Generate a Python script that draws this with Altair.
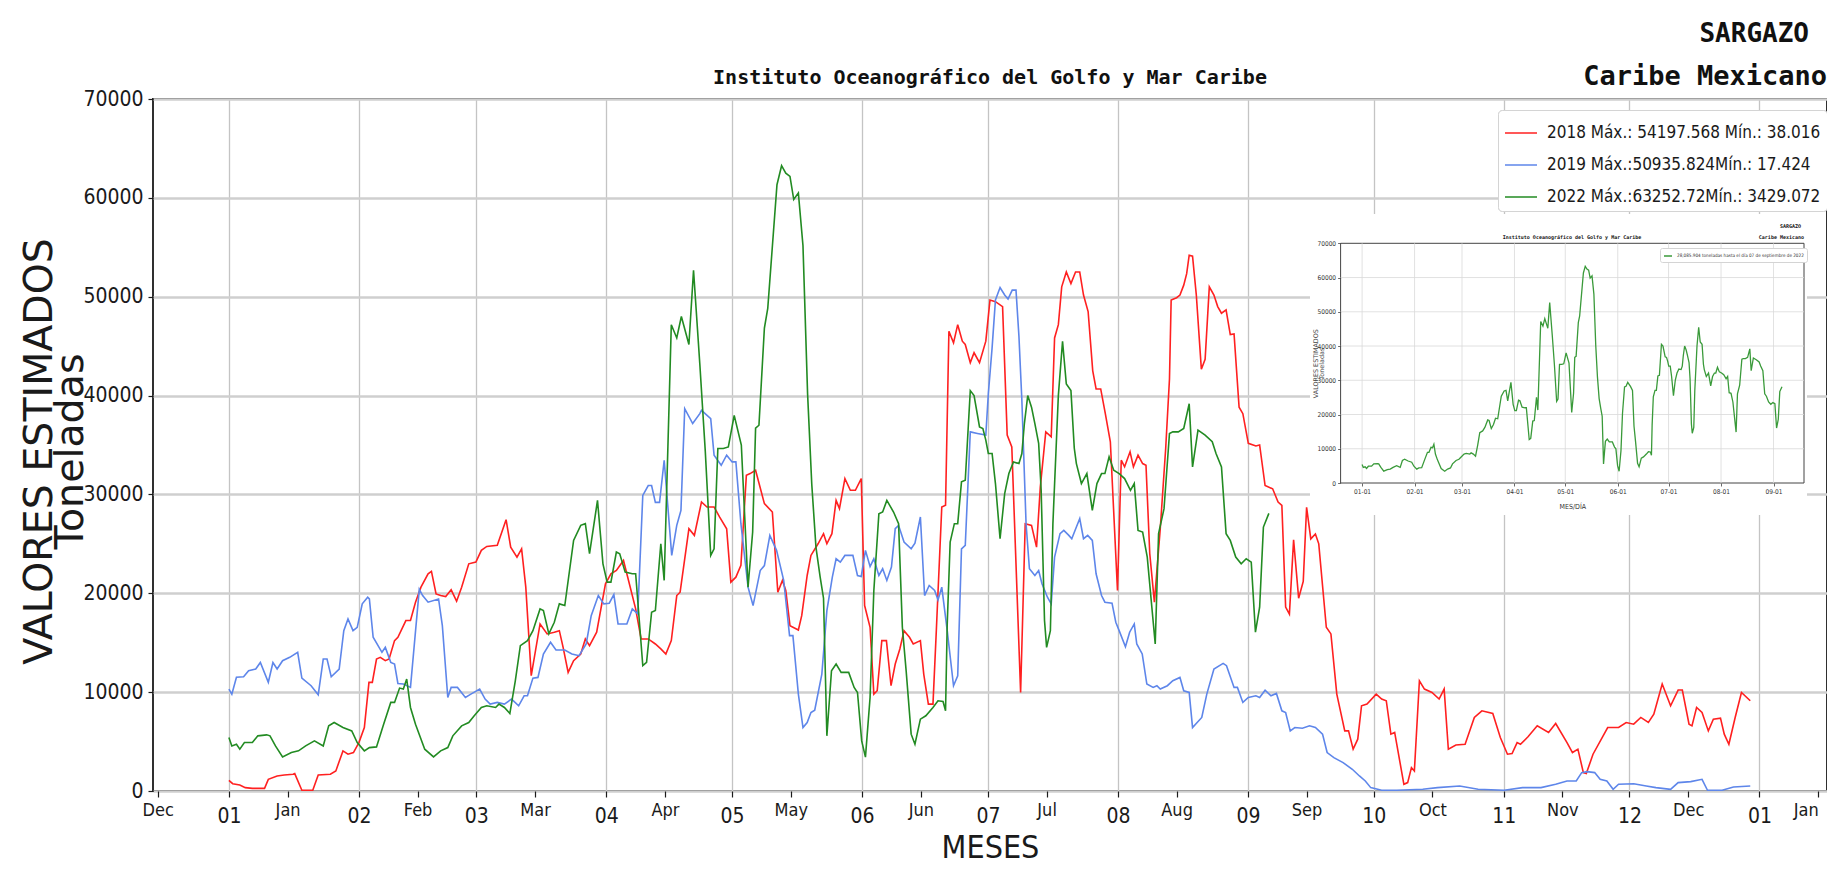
import json
import altair as alt
import pandas as pd

# ---------------- data ----------------
serie_2018 = [
    (0, 1080), (0.9, 740), (2.6, 610), (3.9, 340), (5.6, 270), (8.5, 270), (9.4, 1180), (11.5, 1520),
    (13.2, 1620), (15.3, 1690), (15.7, 1760), (17.4, 70), (20, 70), (21.3, 1620), (24.2, 1690), (25.5, 2030),
    (27.2, 4060), (28.4, 3720), (29.7, 3890), (31, 4900), (32.3, 6420), (33.4, 10990), (34.2, 10990),
    (35.2, 13350), (36.1, 13520), (37.3, 13180), (38.2, 13350), (39.5, 15210), (40.3, 15550), (42.2, 17240),
    (43.3, 17240), (44.5, 19100), (45.8, 20620), (47.5, 21970), (48.3, 22210), (49.4, 19940), (50.5, 19770),
    (51.7, 19670), (53, 20350), (54.3, 19200), (55.5, 20620), (57.2, 22980), (58.9, 23150), (60.2, 24340),
    (61.5, 24740), (64, 24850), (66.1, 27450), (67.2, 24670), (68.7, 23660), (69.8, 24500), (70.8, 20620),
    (72.1, 11660), (74.2, 16900), (75.9, 15890), (77.6, 16060), (78.8, 16220), (79.7, 14530), (80.9, 12000),
    (82.2, 13180), (83.9, 13860), (85, 15380), (86, 14700), (87.7, 16060), (89.8, 20960), (91.1, 21970),
    (92.4, 22310), (94.1, 23320), (95.3, 21300), (97, 18420), (98.3, 15380), (100, 15380), (101.7, 14870),
    (103, 14370), (104.2, 13860), (105.5, 15210), (106.8, 19770), (107.6, 20110), (109.7, 26530), (111, 25860),
    (112.7, 29240), (114, 28730), (115.7, 28730), (117, 27720), (118.7, 26530), (119.7, 21130), (120.9, 21630),
    (122.1, 22820), (123.4, 31940), (124.3, 32110), (125.6, 32450), (127.7, 29070), (129.6, 28220),
    (130.9, 20110), (132, 21300), (132.8, 20280), (133.8, 16730), (135.8, 16290), (136.6, 17740), (137.9, 21800),
    (138.8, 23830), (140.5, 25010), (141.8, 26030), (142.6, 25010), (143.8, 26030), (144.8, 29400),
    (145.6, 28560), (146.9, 31600), (148.2, 30420), (149.4, 30420), (150.8, 31600), (151.6, 18760),
    (152.9, 16560), (153.8, 9800), (154.6, 10140), (155.7, 15210), (156.8, 15210), (157.9, 10650),
    (158.9, 12840), (160, 14370), (161, 16220), (162.3, 15550), (163.2, 14870), (164.9, 15210), (165.7, 11830),
    (166.8, 8790), (167.9, 8790), (168.7, 16220), (170, 28730), (170.9, 28900), (171.7, 46500), (172.8, 45330),
    (173.8, 47170), (174.9, 45500), (175.6, 45170), (176.8, 43330), (177.7, 44330), (179, 43330),
    (180.5, 45500), (181.5, 49670), (182.8, 49500), (184.5, 49000), (185.6, 36000), (186.7, 34800),
    (188.8, 9970), (189.9, 27040), (191.4, 26870), (192.6, 24670), (193.5, 30760), (194.8, 36330),
    (196.1, 35830), (196.9, 45830), (197.8, 47170), (198.6, 51000), (199.7, 52500), (200.8, 51330),
    (201.9, 52500), (202.9, 52500), (203.8, 50170), (204.9, 48500), (206, 42500), (206.8, 40670),
    (207.9, 40670), (209, 38170), (210.2, 35330), (211.9, 20280), (212.8, 33460), (213.6, 32790),
    (214.9, 34310), (215.7, 32790), (216.8, 33970), (217.9, 33120), (218.7, 32960), (219.6, 24000),
    (220.7, 19100), (222.1, 26530), (223.4, 34670), (224.3, 41670), (224.7, 49670), (226, 49900),
    (226.8, 50170), (227.7, 51170), (228.4, 52330), (229, 54198), (229.8, 54100), (230.7, 50170),
    (231.9, 42670), (232.8, 43670), (233.8, 51000), (234.9, 50170), (235.8, 49000), (236.7, 48330),
    (237.8, 48670), (238.8, 46170), (239.7, 46230), (240.9, 38830), (241.8, 38170), (243.1, 35170),
    (244.9, 34900), (245.8, 35000), (247.1, 30900), (248.9, 30570), (250.2, 29230), (251.1, 28900),
    (252, 18600), (252.9, 17900), (253.9, 25400), (255.1, 19500), (256.2, 21200), (257, 28700), (258, 25500),
    (259.1, 26000), (259.9, 25000), (261.7, 16560), (262.8, 15890), (264.2, 9800), (266.1, 6080), (267, 6080),
    (268.1, 4230), (269.2, 5240), (270.1, 8620), (271.4, 8790), (273.6, 9800), (274.9, 9300), (276, 9130),
    (277.1, 5750), (278, 5920), (280.2, 680), (281.1, 850), (282, 2370), (282.7, 2030), (283.9, 11150),
    (285.1, 10310), (286.9, 9970), (288.6, 9300), (289.8, 10310), (290.8, 4230), (292.6, 4660), (294.8, 4730),
    (297, 7440), (298.8, 8110), (301.4, 7840), (303.2, 5410), (304.9, 3720), (306, 3790), (307.2, 4900),
    (308, 4730), (309.8, 5480), (312, 6590), (314.7, 5920), (316.4, 6830), (319.1, 4900), (320.4, 3890),
    (321.7, 4230), (323, 1860), (323.7, 1760), (325.3, 3720), (328.8, 6420), (331.4, 6420), (333.2, 6930),
    (335, 6760), (336.7, 7440), (338.5, 6930), (339.8, 7770), (341.8, 10820), (343.8, 8620), (345.6, 10210),
    (346.6, 10210), (348.2, 6760), (348.9, 6590), (350, 8450), (351.3, 7940), (352.8, 6080), (354, 7270),
    (355.7, 7370), (356.6, 5750), (357.7, 4730), (359.2, 7440), (360.7, 9970), (362.8, 9130),
]

serie_2019 = [
    (0, 10309), (0.7, 9800), (1.8, 11500), (3.5, 11560), (4.7, 12170), (6.4, 12340), (7.5, 13000), (9.4, 11000),
    (10.5, 13000), (11.5, 12340), (12.8, 13180), (14.5, 13520), (16.4, 14030), (17.4, 11420), (19.6, 10650),
    (21.3, 9730), (22.5, 13350), (23.4, 13350), (24.4, 11560), (26.3, 12340), (27.4, 16220), (28.4, 17400),
    (29.6, 16220), (30.6, 16560), (31.8, 18930), (33.1, 19600), (33.5, 19430), (34.4, 15550), (36.5, 14030),
    (37.3, 14530), (38.6, 13010), (39.5, 12840), (40.3, 10880), (41.6, 10820), (43.3, 10480), (45.4, 20400),
    (46.2, 19770), (47.5, 19100), (50, 19430), (50.9, 16730), (52.2, 9460), (53, 10480), (54.5, 10480),
    (56.4, 9460), (57.7, 9800), (59.8, 10310), (61.1, 9300), (62.3, 8790), (64, 8960), (65.7, 8790),
    (67.4, 9300), (69.1, 8620), (70.4, 9630), (71.2, 9630), (72.5, 11420), (73.7, 11490), (75, 13860),
    (76.7, 15040), (78, 14260), (80.1, 14260), (81.8, 13860), (83.5, 13690), (85.2, 14870), (86.4, 17740),
    (88.1, 19770), (89.4, 18930), (90.7, 19000), (91.8, 19870), (92.8, 16900), (94.9, 16900), (96.2, 18420),
    (97.5, 17910), (98.7, 29900), (100, 30900), (100.8, 30900), (101.7, 29200), (102.7, 29200), (103.8, 33460),
    (105.6, 23830), (106.8, 26870), (107.8, 28390), (108.7, 38670), (110.6, 37170), (112.3, 38170),
    (112.7, 38500), (114.9, 37670), (115.7, 33970), (117.4, 32950), (118.7, 33970), (120, 33290),
    (120.9, 33290), (122.1, 27040), (123.8, 20620), (125, 18760), (126.7, 22300), (127.7, 22800), (129, 25860),
    (130.6, 24340), (132.3, 21300), (133.7, 15720), (134.5, 15720), (135.8, 9800), (136.9, 6420), (137.9, 6930),
    (138.8, 7940), (139.7, 8180), (141.4, 11830), (142.6, 18250), (143.9, 21630), (144.8, 23490),
    (145.8, 23150), (146.9, 23830), (148.8, 23830), (149.9, 21800), (150.8, 21700), (151.8, 24340),
    (152.9, 22710), (153.8, 23490), (155, 21800), (155.9, 22480), (156.9, 21300), (158, 22650), (158.9, 26530),
    (159.7, 26870), (161, 25180), (162.7, 24500), (163.6, 25080), (164.9, 27720), (165.9, 19770), (167, 20790),
    (168.3, 20280), (169.1, 19330), (170, 20620), (171.3, 16220), (172.8, 10650), (173.8, 11660),
    (174.7, 24500), (175.6, 24840), (176.8, 36330), (178.5, 36170), (180.5, 36000), (181.1, 40170),
    (182, 44830), (182.8, 49670), (183.9, 50936), (185, 50170), (185.8, 49770), (186.8, 50670), (187.7, 50670),
    (188.4, 46000), (189.1, 39500), (190.1, 27040), (190.9, 22480), (192.2, 21800), (193.1, 22310),
    (193.9, 20960), (195.2, 19600), (196.1, 18930), (196.9, 23660), (198.2, 26030), (199.1, 26360),
    (200.3, 25860), (201, 25520), (202.1, 26700), (202.9, 27550), (203.8, 25520), (204.8, 25860),
    (205.9, 25350), (206.8, 21970), (208.1, 19770), (208.9, 19100), (210.6, 19000), (211.5, 17070),
    (212.3, 16220), (213.8, 14600), (214.8, 16060), (215.9, 16900), (216.5, 14870), (217.8, 13860),
    (218.9, 10820), (220.4, 10480), (221.3, 10650), (222.1, 10310), (223.8, 10650), (225.1, 11150),
    (226.8, 11490), (227.7, 10140), (229, 9970), (229.8, 6420), (232, 7440), (233.2, 9800), (234.9, 12340),
    (237.1, 12910), (237.9, 12680), (239.7, 10480), (240.5, 10480), (241.8, 8960), (243.1, 9460),
    (244.9, 9630), (245.8, 9460), (247.1, 10200), (248.5, 9630), (249.8, 9870), (251.1, 8110), (252, 7940),
    (253.1, 6080), (254.2, 6420), (256, 6350), (257.7, 6590), (259.1, 6420), (260.8, 5750), (261.9, 3890),
    (263.5, 3380), (265.7, 2870), (267.9, 2200), (269.6, 1520), (271, 1010), (272.3, 340), (274.9, 70),
    (278.5, 70), (284.7, 170), (288.2, 340), (293.5, 510), (297.9, 170), (304.1, 70), (308.5, 340),
    (312.9, 340), (316.4, 680), (319.1, 1010), (321.3, 1010), (322.6, 1860), (323.9, 1960), (325.7, 1860),
    (327, 1180), (328.6, 1010), (330.1, 170), (331.4, 680), (335, 740), (338, 510), (340.3, 340), (343.8, 170),
    (345.6, 850), (348.6, 950), (351.3, 1180), (352.6, 70), (356.1, 70), (358.8, 410), (362.8, 510),
]

serie_2022 = [
    (0, 5410), (0.7, 4560), (1.8, 4730), (2.6, 4230), (3.7, 4900), (5.6, 4900), (6.9, 5580), (9, 5680),
    (9.8, 5580), (11.1, 4560), (12.8, 3450), (14.9, 3890), (16.6, 4060), (18.3, 4560), (20.4, 5070),
    (22.5, 4560), (23.8, 6590), (25.1, 6930), (27.2, 6420), (29.3, 6080), (30.6, 4900), (32.3, 4060),
    (33.5, 4390), (35.2, 4460), (36.9, 6760), (38.6, 8960), (39.5, 8960), (40.7, 10410), (41.6, 10310),
    (42.4, 11320), (43.3, 8450), (44.5, 6760), (46.7, 4230), (48.8, 3450), (50.5, 4060), (52.2, 4390),
    (53.4, 5580), (55.5, 6590), (57.2, 6930), (58.5, 7610), (60.2, 8450), (61.5, 8620), (63.6, 8450),
    (64.4, 8790), (65.7, 8450), (67, 7840), (68.3, 11150), (69.5, 14700), (71.2, 15210), (72.5, 16220),
    (74.2, 18420), (75, 18250), (76.3, 15890), (77.6, 17070), (78.8, 18930), (80.1, 18760), (82.2, 25350),
    (83.9, 26870), (85, 27040), (86, 24000), (87.9, 29400), (89.2, 22980), (90.2, 21130), (91.1, 21130),
    (92.4, 24170), (93.2, 24000), (94.5, 22140), (96.2, 21970), (97, 21970), (98.7, 12680), (99.6, 13010),
    (100.8, 18080), (101.7, 18250), (103, 25010), (103.8, 21300), (105.5, 47170), (106.8, 45830),
    (107.9, 48000), (109.7, 45170), (110.8, 52670), (112.3, 43200), (113.6, 34400), (114.9, 23830),
    (115.7, 24500), (116.6, 34650), (117.9, 34650), (119.1, 34800), (120.5, 38000), (122.2, 35000),
    (123.8, 20620), (124.9, 26200), (125.6, 36700), (126.4, 37000), (127.7, 46830), (128.5, 48830),
    (130.7, 61330), (131.8, 63253), (132.8, 62500), (133.8, 62170), (134.7, 59830), (135.8, 60500),
    (136.9, 55170), (138, 40170), (139, 31000), (140, 24650), (141, 21630), (141.8, 19500), (142.6, 5580),
    (143.7, 12170), (144.8, 12840), (146, 12000), (147.8, 12000), (149.1, 10480), (149.9, 9970), (150.9, 5070),
    (151.8, 3429), (152.9, 9460), (153.8, 20280), (155, 28050), (155.9, 28220), (156.9, 29400), (158.5, 28220),
    (159.7, 27040), (160.6, 16560), (161.5, 12170), (162.7, 5750), (163.6, 4730), (164.9, 7270), (166.2, 7610),
    (167.9, 8450), (169.1, 9130), (170.3, 9060), (170.9, 8110), (171.3, 16900), (172, 25180), (173, 27040),
    (173.8, 27040), (174.7, 31270), (175.6, 31430), (176.8, 40500), (177.7, 40000), (179, 36830),
    (179.8, 36670), (180.5, 35500), (181.1, 34140), (182, 34140), (182.8, 31100), (183.9, 25520), (185, 30080),
    (186, 32110), (187.1, 33290), (188.4, 33120), (189.1, 34140), (189.7, 37170), (190.5, 40000),
    (191.4, 38830), (192.2, 37170), (193.1, 35170), (193.7, 30420), (194.5, 17240), (195, 14530),
    (195.9, 16220), (196.5, 27040), (197.8, 40000), (198.8, 45500), (199.7, 41170), (200.8, 40500),
    (201.6, 34670), (202.1, 33120), (203.3, 31100), (204.6, 32110), (205.9, 28390), (207, 31100),
    (208.1, 32110), (208.9, 32110), (209.9, 33800), (211, 32450), (212.3, 32110), (213.6, 31600), (215, 30420),
    (215.9, 31100), (216.8, 26360), (217.9, 26200), (219, 23660), (220.9, 14870), (221.7, 26030),
    (223, 28560), (224.3, 36170), (225.1, 36330), (226.4, 36330), (227.7, 36670), (229, 39170), (229.8, 32790),
    (231.1, 36500), (232.8, 36000), (234.5, 35330), (235.4, 34140), (236.7, 32790), (237.8, 26030),
    (238.8, 25350), (240.1, 23660), (241.4, 22980), (242.6, 23490), (243.8, 23150), (244.8, 16060),
    (245.8, 18590), (246.7, 26700), (248, 28086),
]

serie_labels = [
    "2018 Máx.: 54197.568 Mín.: 38.016",
    "2019 Máx.:50935.824Mín.: 17.424",
    "2022 Máx.:63252.72Mín.: 3429.072",
]
serie_colors = ["#ff2020", "#5e86ea", "#228b22"]
serie_widths = [1.6, 1.6, 3.2]

tick_days = [-17, 0, 14, 31, 45, 59, 73, 90, 104, 120, 134, 151, 165, 181, 195,
             212, 226, 243, 257, 273, 287, 304, 318, 334, 348, 365, 379]
tick_labels = ["Dec", "01", "Jan", "02", "Feb", "03", "Mar", "04", "Apr", "05", "May", "06", "Jun",
               "07", "Jul", "08", "Aug", "09", "Sep", "10", "Oct", "11", "Nov", "12", "Dec", "01", "Jan"]
month_start_days = [0, 31, 59, 90, 120, 151, 181, 212, 243, 273, 304, 334, 365]
y_ticks = [0, 10000, 20000, 30000, 40000, 50000, 60000, 70000]

inset_tick_days = [0, 31, 59, 90, 120, 151, 181, 212, 243]
inset_tick_labels = ["01-01", "02-01", "03-01", "04-01", "05-01", "06-01", "07-01", "08-01", "09-01"]
inset_grid_values = [10000, 20000, 30000, 40000, 50000, 60000]
inset_legend_label = "28,085.904 toneladas hasta el día 07 de septiembre de 2022"

titulo = "Instituto Oceanográfico del Golfo y Mar Caribe"
encabezado = ["SARGAZO", "Caribe Mexicano"]
y_title = ["VALORES ESTIMADOS", "Toneladas"]
x_title = "MESES"
inset_x_title = "MES/DÍA"

# ---------------- layout ----------------
W, H = 1674, 692
NARROW = "DejaVu Sans Condensed, Liberation Sans Narrow, sans-serif"
MONO = "DejaVu Sans Mono, Liberation Mono, monospace"
INK = "#1a1a1a"

# inset geometry (pixels relative to the main plot area)
IX0, IX1, IY0, IY1 = 1187.6, 1651.0, 384.0, 144.3
BG = dict(x=1157, x2=1654, y=115, y2=416)

rows = []
for lab, serie in zip(serie_labels, [serie_2018, serie_2019, serie_2022]):
    for d, v in serie:
        rows.append({"serie": lab, "day": d, "valor": v})
df_main = pd.DataFrame(rows)
df_inset = pd.DataFrame([{"leyenda": inset_legend_label, "day": d, "valor": v} for d, v in serie_2022])

is_month = f"indexof({json.dumps(month_start_days)}, datum.value) >= 0"
label_expr = f"{json.dumps(tick_labels)}[indexof({json.dumps(tick_days)}, datum.value)]"
inset_label_expr = f"{json.dumps(inset_tick_labels)}[indexof({json.dumps(inset_tick_days)}, datum.value)]"
last_tick = f"datum.value == {tick_days[-1]}"

main_legend = alt.Legend(
    title=None, orient="none", legendX=1345, legendY=11, symbolType="stroke", symbolSize=1024,
    labelFont=NARROW, labelFontSize=17, labelColor=INK, labelLimit=600, rowPadding=7, padding=6,
    labelOffset=9, strokeColor="#d4d4d4", fillColor="white", cornerRadius=4,
)

main = alt.Chart(df_main).mark_line().encode(
    x=alt.X("day:Q", scale=alt.Scale(domain=[-18.1, 381.1], nice=False, zero=False),
            axis=alt.Axis(
                values=tick_days, labelExpr=label_expr, labelOverlap=False, labelFlush=False,
                grid=True, gridColor="#c4c4c4", gridWidth=1.3,
                gridOpacity={"condition": {"test": is_month, "value": 1}, "value": 0},
                tickColor=INK, tickSize=6, tickWidth=1.2,
                labelFont=NARROW, labelColor=INK,
                labelFontSize={"condition": {"test": is_month, "value": 21}, "value": 18},
                labelPadding={"condition": {"test": is_month, "value": 8}, "value": 4},
                labelAlign={"condition": {"test": last_tick, "value": "right"}, "value": "center"},
                domain=False, title=x_title, titleFont=NARROW, titleFontSize=32,
                titleFontWeight="normal", titleColor=INK, titleBaseline="alphabetic", titleY=66,
            )),
    y=alt.Y("valor:Q", scale=alt.Scale(domain=[0, 70000], nice=False, zero=True),
            axis=alt.Axis(
                values=y_ticks, format="d", grid=True, gridColor="#cfcfcf", gridWidth=2.6,
                tickColor=INK, tickSize=5, tickWidth=1.2, labelFont=NARROW, labelFontSize=21,
                labelColor=INK, labelPadding=5, domain=False,
                title=y_title, titleFont="DejaVu Sans", titleFontSize=39.5, titleFontWeight="normal",
                titleColor=INK, titleAngle=270, titleX=-114, titleY=352, titleAlign="center",
                titleBaseline="middle", titleLineHeight=31,
            )),
    color=alt.Color("serie:N", scale=alt.Scale(domain=serie_labels, range=serie_colors), legend=main_legend),
    strokeWidth=alt.StrokeWidth("serie:N", scale=alt.Scale(domain=serie_labels, range=serie_widths),
                                legend=main_legend),
)

one = alt.Data(values=[{"k": 1}])
inset_bg = alt.Chart(one).mark_rect(fill="white").encode(
    x=alt.value(BG["x"]), x2=alt.value(BG["x2"]), y=alt.value(BG["y"]), y2=alt.value(BG["y2"]))
inset_frame = alt.Chart(one).mark_rect(fill=None, stroke="#444444", strokeWidth=1).encode(
    x=alt.value(IX0), x2=alt.value(IX1), y=alt.value(IY1), y2=alt.value(IY0))


def inset_x_scale():
    return alt.Scale(domain=[-12.7, 261], range=[IX0, IX1], nice=False, zero=False)


def inset_y_scale():
    return alt.Scale(domain=[0, 70000], range=[IY0, IY1], nice=False, zero=True)


inset_grid_v = alt.Chart(pd.DataFrame({"day": inset_tick_days})).mark_rule(
    color="#d9d9d9", strokeWidth=0.8).encode(
    x=alt.X("day:Q", scale=inset_x_scale(), axis=None), y=alt.value(IY1), y2=alt.value(IY0))
inset_grid_h = alt.Chart(pd.DataFrame({"valor": inset_grid_values})).mark_rule(
    color="#d9d9d9", strokeWidth=0.8).encode(
    y=alt.Y("valor:Q", scale=inset_y_scale(), axis=None), x=alt.value(IX0), x2=alt.value(IX1))

inset_line = alt.Chart(df_inset).mark_line(strokeWidth=1.3).encode(
    x=alt.X("day:Q", scale=inset_x_scale(),
            axis=alt.Axis(
                orient="bottom", offset=-(H - IY0), values=inset_tick_days, labelExpr=inset_label_expr,
                labelFont=NARROW, labelFontSize=6.5, labelColor="#333", labelFlush=False, labelOverlap=False,
                tickSize=3, tickColor="#444", tickWidth=0.8, labelPadding=2, grid=False, domain=False,
                title=inset_x_title, titleFont=NARROW, titleFontSize=7, titleFontWeight="normal",
                titleColor="#333", titleBaseline="alphabetic", titleY=25, zindex=1,
            )),
    y=alt.Y("valor:Q", scale=inset_y_scale(),
            axis=alt.Axis(
                orient="left", offset=-IX0, values=y_ticks, format="d",
                labelFont=NARROW, labelFontSize=6.5, labelColor="#333", labelPadding=2,
                tickSize=3, tickColor="#444", tickWidth=0.8, grid=False, domain=False,
                title=y_title, titleFont="DejaVu Sans", titleFontSize=6.4, titleFontWeight="normal",
                titleColor="#444", titleAngle=270, titleX=-25, titleY=(IY0 + IY1) / 2,
                titleAlign="center", titleBaseline="middle", titleLineHeight=5.5, zindex=1,
            )),
    color=alt.Color("leyenda:N", scale=alt.Scale(domain=[inset_legend_label], range=["#3a9a3a"]),
                    legend=alt.Legend(
                        title=None, orient="none", legendX=1507, legendY=149, symbolType="stroke",
                        symbolSize=64, symbolStrokeWidth=1.5, labelFont=NARROW, labelFontSize=4.6,
                        labelColor="#333", labelLimit=400, padding=3, strokeColor="#d4d4d4",
                        fillColor="white", cornerRadius=2)),
)


def texto(t, x, y, size, align, font=MONO, weight="bold", color="#111"):
    return alt.Chart(alt.Data(values=[{"t": t}])).mark_text(
        font=font, fontSize=size, fontWeight=weight, align=align, baseline="alphabetic", color=color
    ).encode(x=alt.value(x), y=alt.value(y), text="t:N")


textos = [
    texto(titulo, W / 2, -15, 20, "center"),
    texto(encabezado[0], 1656, -57, 26, "right"),
    texto(encabezado[1], 1674, -14, 27, "right"),
    texto(titulo, 1419, 140, 5, "center"),
    texto(encabezado[0], 1648, 129, 5, "right"),
    texto(encabezado[1], 1651, 140, 5, "right"),
]

chart = alt.layer(main, inset_bg, inset_frame, inset_grid_v, inset_grid_h, inset_line, *textos).resolve_scale(
    x="independent", y="independent", color="independent"
).resolve_axis(x="independent", y="independent").resolve_legend(color="independent").properties(
    width=W, height=H,
    autosize=alt.AutoSizeParams(type="none"),
    padding={"left": 145, "top": 91, "right": 0, "bottom": 75},
    background="white",
).configure_view(stroke=INK, strokeWidth=1.8)

chart.save("out.html", embed_options={"renderer": "svg", "actions": False})
